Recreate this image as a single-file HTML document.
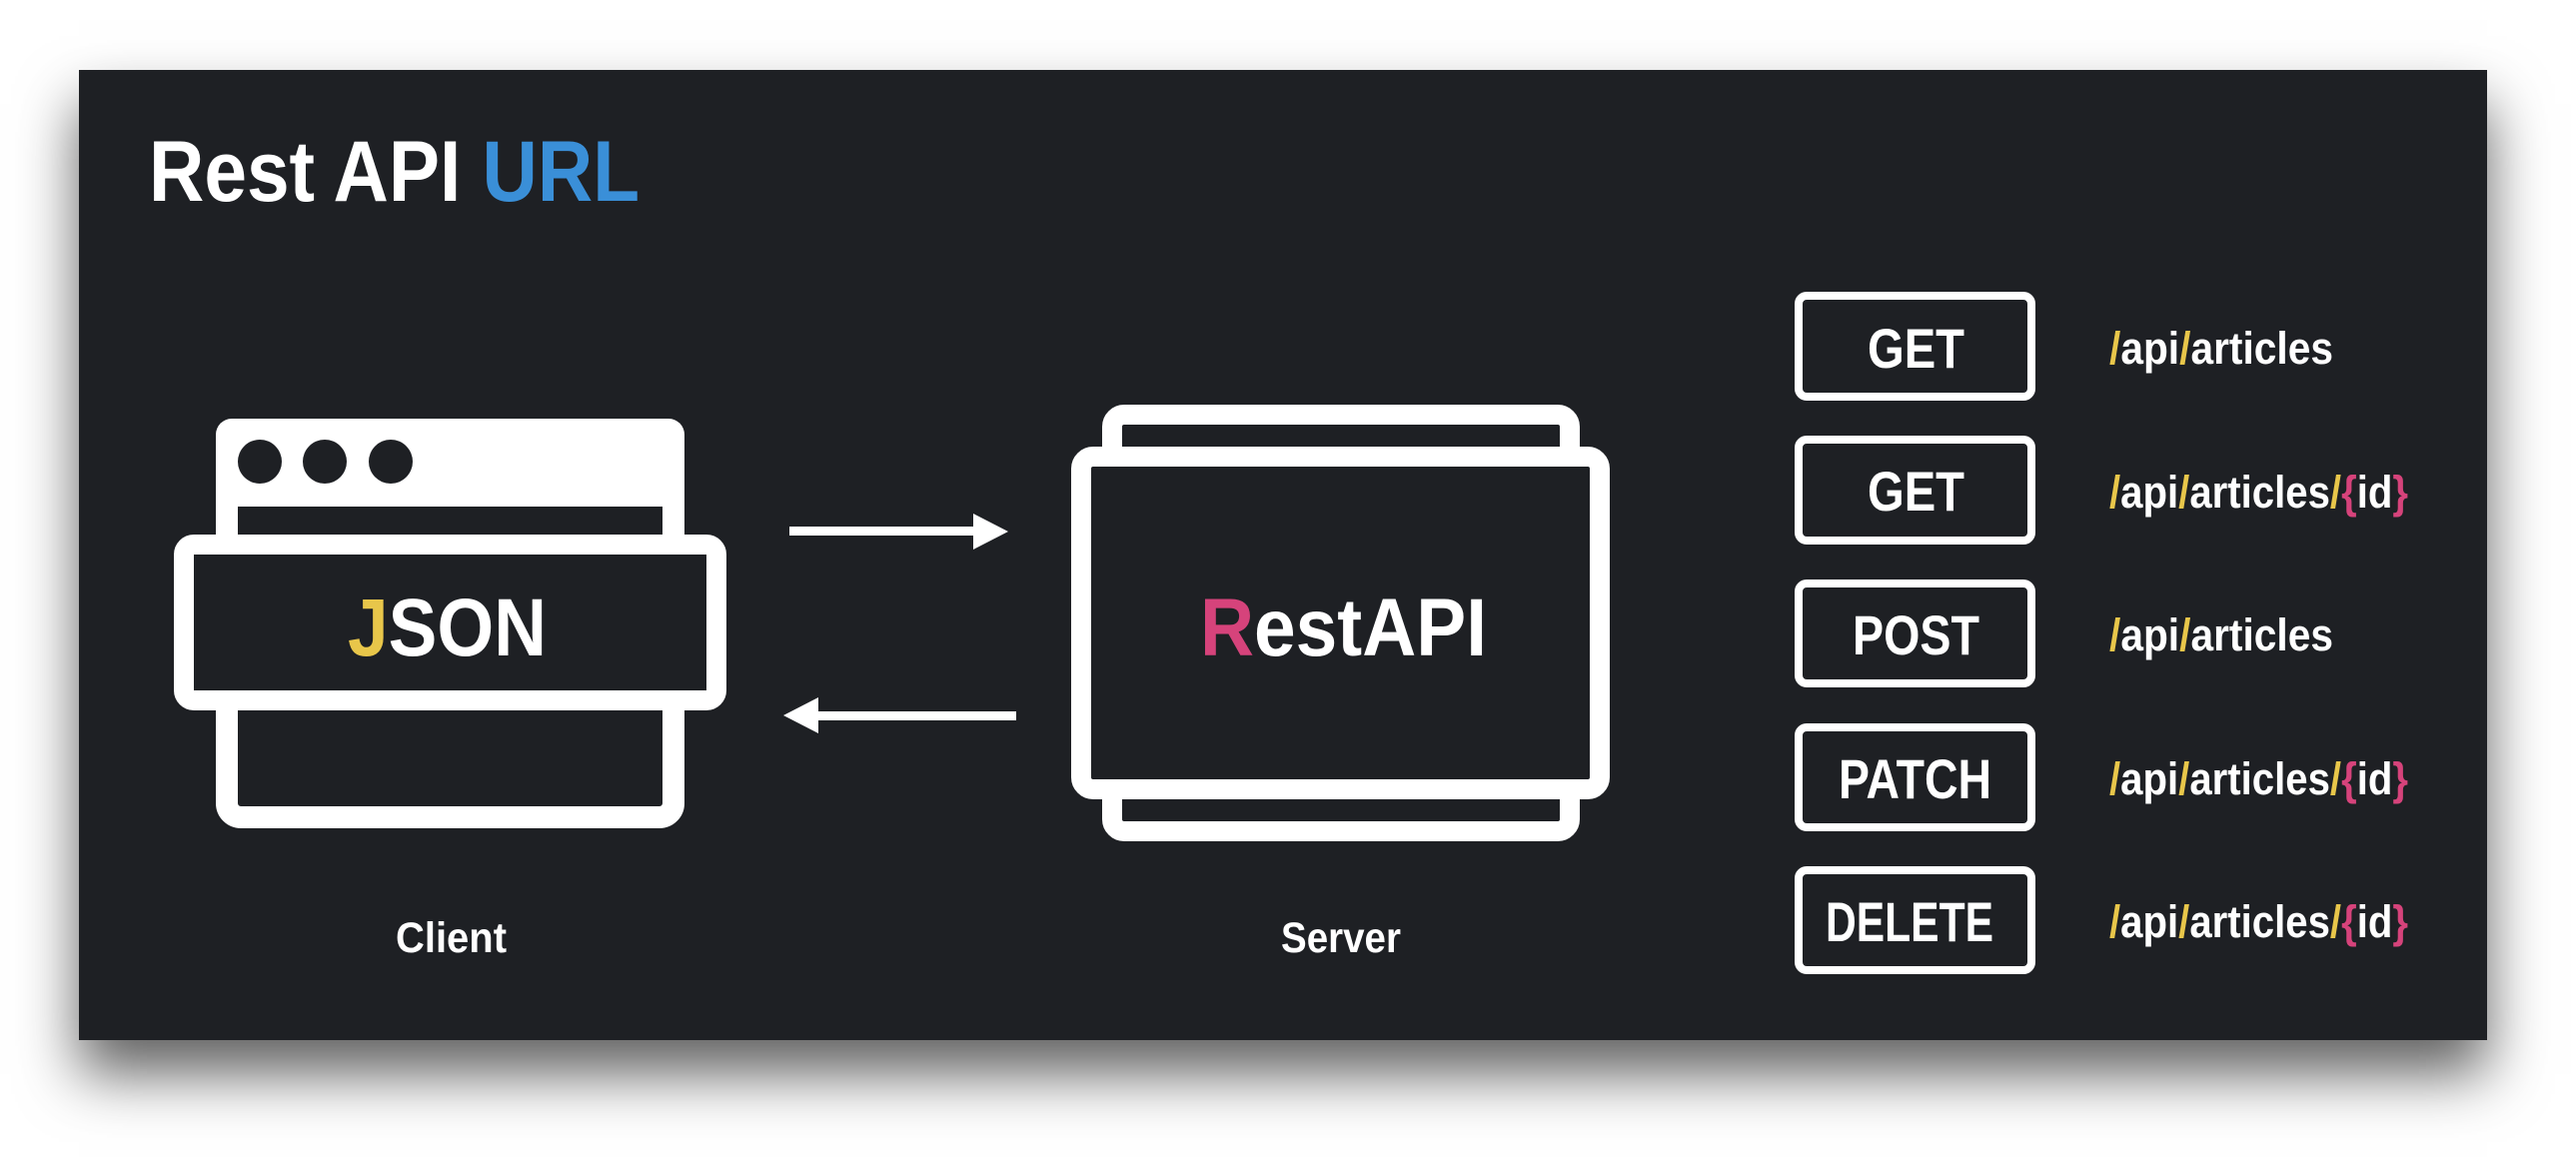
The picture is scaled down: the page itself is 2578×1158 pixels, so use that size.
<!DOCTYPE html>
<html><head><meta charset="utf-8"><style>
html,body{margin:0;padding:0;background:#fff;width:2578px;height:1158px;overflow:hidden}
#panel{position:absolute;left:79px;top:70px;width:2410px;height:971px;background:#1e2024;box-shadow:0 34px 56px rgba(0,0,0,.62)}
svg{position:absolute;left:0;top:0}
text{font-family:"Liberation Sans",sans-serif;fill:#fff;font-weight:bold}
</style></head><body>
<div id="panel"></div>
<svg width="2578" height="1158" viewBox="0 0 2578 1158">
<text x="149" y="201" font-size="86" textLength="491" lengthAdjust="spacingAndGlyphs">Rest API <tspan fill="#3a8fd8">URL</tspan></text>
<!-- client -->
<rect x="227" y="430" width="447" height="388" rx="14" fill="none" stroke="#fff" stroke-width="22"/>
<rect x="227" y="430" width="447" height="77" fill="#fff"/>
<rect x="216" y="419" width="469" height="60" rx="16" fill="#fff"/>
<circle cx="260" cy="462" r="22" fill="#1e2024"/>
<circle cx="325" cy="462" r="22" fill="#1e2024"/>
<circle cx="391" cy="462" r="22" fill="#1e2024"/>
<rect x="184" y="545" width="533" height="156" rx="10" fill="#1e2024" stroke="#fff" stroke-width="20"/>
<text x="348" y="656" font-size="82" textLength="199" lengthAdjust="spacingAndGlyphs"><tspan fill="#e8c64a">J</tspan>SON</text>
<text x="396" y="953" font-size="43" textLength="111" lengthAdjust="spacingAndGlyphs">Client</text>
<!-- arrows -->
<rect x="790" y="527" width="186" height="9" fill="#fff"/>
<polygon points="974,514 1009,532 974,550" fill="#fff"/>
<rect x="817" y="712" width="200" height="9" fill="#fff"/>
<polygon points="819,698 784,716 819,734" fill="#fff"/>
<!-- server -->
<rect x="1113" y="415" width="458" height="417" rx="12" fill="none" stroke="#fff" stroke-width="20"/>
<rect x="1082" y="457" width="519" height="333" rx="12" fill="#1e2024" stroke="#fff" stroke-width="20"/>
<text x="1201" y="656" font-size="82" textLength="287" lengthAdjust="spacingAndGlyphs"><tspan fill="#d6437b">R</tspan>estAPI</text>
<text x="1282" y="953" font-size="43" textLength="120" lengthAdjust="spacingAndGlyphs">Server</text>
<!-- buttons -->
<g fill="none" stroke="#fff" stroke-width="8">
<rect x="1800" y="296" width="233" height="101" rx="8"/>
<rect x="1800" y="440" width="233" height="101" rx="8"/>
<rect x="1800" y="584" width="233" height="100" rx="8"/>
<rect x="1800" y="728" width="233" height="100" rx="8"/>
<rect x="1800" y="871" width="233" height="100" rx="8"/>
</g>
<text x="1869" y="368" font-size="56" textLength="97" lengthAdjust="spacingAndGlyphs">GET</text>
<text x="1869" y="511" font-size="56" textLength="97" lengthAdjust="spacingAndGlyphs">GET</text>
<text x="1854" y="655" font-size="56" textLength="127" lengthAdjust="spacingAndGlyphs">POST</text>
<text x="1840" y="799" font-size="56" textLength="153" lengthAdjust="spacingAndGlyphs">PATCH</text>
<text x="1827" y="942" font-size="56" textLength="168" lengthAdjust="spacingAndGlyphs">DELETE</text>
<g font-size="45">
<text x="2111" y="364" textLength="224" lengthAdjust="spacingAndGlyphs"><tspan fill="#e8c64a">/</tspan>api<tspan fill="#e8c64a">/</tspan>articles</text>
<text x="2111" y="508" textLength="299" lengthAdjust="spacingAndGlyphs"><tspan fill="#e8c64a">/</tspan>api<tspan fill="#e8c64a">/</tspan>articles<tspan fill="#e8c64a">/</tspan><tspan fill="#d6437b">{</tspan>id<tspan fill="#d6437b">}</tspan></text>
<text x="2111" y="651" textLength="224" lengthAdjust="spacingAndGlyphs"><tspan fill="#e8c64a">/</tspan>api<tspan fill="#e8c64a">/</tspan>articles</text>
<text x="2111" y="795" textLength="299" lengthAdjust="spacingAndGlyphs"><tspan fill="#e8c64a">/</tspan>api<tspan fill="#e8c64a">/</tspan>articles<tspan fill="#e8c64a">/</tspan><tspan fill="#d6437b">{</tspan>id<tspan fill="#d6437b">}</tspan></text>
<text x="2111" y="938" textLength="299" lengthAdjust="spacingAndGlyphs"><tspan fill="#e8c64a">/</tspan>api<tspan fill="#e8c64a">/</tspan>articles<tspan fill="#e8c64a">/</tspan><tspan fill="#d6437b">{</tspan>id<tspan fill="#d6437b">}</tspan></text>
</g>
</svg>
</body></html>
